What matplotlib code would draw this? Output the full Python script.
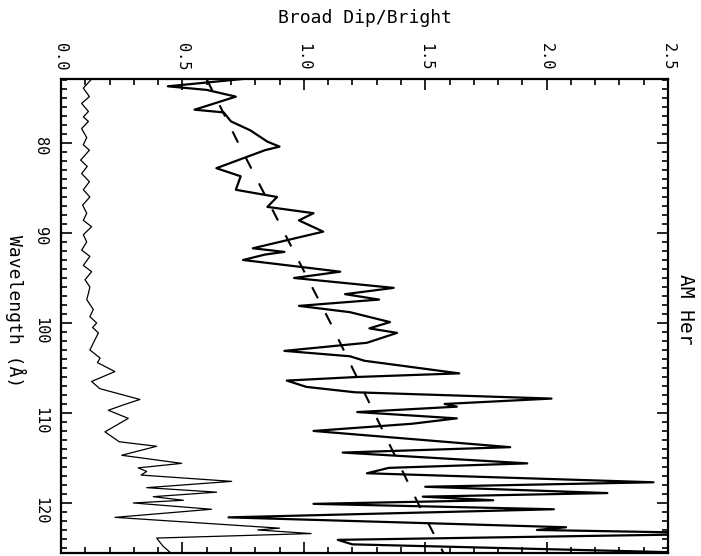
import matplotlib
matplotlib.use("Agg")
import matplotlib.pyplot as plt
from matplotlib.ticker import MultipleLocator

plt.rcParams['font.family'] = ['DejaVu Sans Mono', 'DejaVu Sans']

# broad dip / bright ratio (thick line)
ratio_wl = [72.9, 73.7, 74.1, 74.85, 76.3, 76.6, 77.6, 78.6, 79.85, 80.4,
            80.8, 82.8, 83.7, 85.2, 86.0, 87.1, 87.8, 88.6, 89.85, 91.7,
            92.1, 92.4, 93.0, 94.3, 95.0, 96.1, 96.8, 97.4, 98.1, 98.8,
            99.9, 100.6, 101.1, 102.2, 103.1, 103.7, 104.2, 105.6, 106.0, 106.4,
            107.1, 107.7, 108.4, 109.0, 109.3, 109.9, 110.6, 111.2, 112.0, 113.8,
            114.4, 115.6, 116.1, 116.7, 117.7, 118.2, 118.9, 119.3, 119.7, 120.1,
            120.7, 121.6, 122.7, 123.0, 123.4, 124.1, 124.6, 125.6]
ratio = [0.744, 0.44, 0.60, 0.72, 0.55, 0.67, 0.70, 0.78, 0.85, 0.90,
         0.84, 0.64, 0.74, 0.72, 0.89, 0.85, 1.04, 0.98, 1.08, 0.79,
         0.92, 0.84, 0.75, 1.15, 0.96, 1.37, 1.17, 1.31, 0.98, 1.19,
         1.355, 1.27, 1.384, 1.26, 0.92, 1.19, 1.25, 1.64, 1.22, 0.93,
         1.01, 1.21, 2.02, 1.58, 1.63, 1.22, 1.63, 1.445, 1.04, 1.85,
         1.16, 1.92, 1.35, 1.26, 2.44, 1.50, 2.25, 1.49, 1.78, 1.04,
         2.03, 0.69, 2.08, 1.96, 2.80, 1.14, 1.20, 2.70]

# error curve (thin line)
err_wl = [72.9, 73.9, 74.85, 75.6, 76.5, 77.1, 77.6, 78.4, 79.4, 80.2,
          80.8, 81.9, 82.6, 83.4, 84.3, 85.2, 86.0, 86.9, 87.8, 88.6,
          89.3, 90.2, 91.0, 91.9, 92.6, 93.6, 94.3, 95.2, 96.0, 96.7,
          97.4, 98.5, 99.3, 100.0, 100.5, 101.1, 103.0, 103.9, 104.4, 105.4,
          106.5, 107.3, 108.5, 109.1, 109.7, 110.6, 112.1, 113.2, 113.7, 114.7,
          115.6, 116.1, 116.5, 116.9, 117.6, 118.3, 118.8, 119.3, 119.7, 120.0,
          120.7, 121.6, 122.8, 123.0, 123.4, 123.9, 124.8, 125.5]
err = [0.126, 0.092, 0.117, 0.085, 0.113, 0.092, 0.113, 0.085, 0.106, 0.092,
       0.117, 0.081, 0.108, 0.085, 0.117, 0.092, 0.119, 0.089, 0.106, 0.092,
       0.126, 0.092, 0.106, 0.085, 0.119, 0.092, 0.126, 0.099, 0.119, 0.113,
       0.106, 0.133, 0.119, 0.147, 0.13, 0.154, 0.119, 0.161, 0.15, 0.222,
       0.126, 0.16, 0.325, 0.257, 0.195, 0.277, 0.181, 0.24, 0.394, 0.250,
       0.497, 0.318, 0.353, 0.33, 0.703, 0.353, 0.641, 0.38, 0.504, 0.298,
       0.62, 0.222, 0.90, 0.81, 1.03, 0.394, 0.42, 0.45]

# trend (dashed)
trend_wl = [72.9, 80, 90, 100, 110, 120, 125.8]
trend = [0.60, 0.73, 0.92, 1.11, 1.29, 1.47, 1.58]

fig = plt.figure(figsize=(7.01, 5.56), dpi=100)
ax = fig.add_axes([0.087, 0.0054, 0.866, 0.8525])

ax.plot(err, err_wl, color='black', lw=0.9)
ax.plot(ratio, ratio_wl, color='black', lw=1.6)
ax.plot(trend, trend_wl, color='black', lw=1.5, linestyle=(0, (6, 8)))

ax.set_xlim(0, 2.5)
ax.set_ylim(125.56, 72.89)

ax.xaxis.set_major_locator(MultipleLocator(0.5))
ax.xaxis.set_minor_locator(MultipleLocator(0.1))
ax.yaxis.set_major_locator(MultipleLocator(10))
ax.yaxis.set_minor_locator(MultipleLocator(1))
ax.xaxis.set_major_formatter(lambda v, p: f"{v:.1f}")

ax.tick_params(which='both', direction='in', top=True, right=True,
               labeltop=True, labelbottom=False, width=1.2, color='black')
ax.tick_params(which='major', length=8)
ax.tick_params(which='minor', length=4)
ax.tick_params(axis='x', labelrotation=-90, pad=6, labelsize=11)
ax.tick_params(axis='y', labelrotation=-90, pad=9, labelsize=11)
for s in ax.spines.values():
    s.set_linewidth(1.6)

fig.text(0.521, 0.968, 'Broad Dip/Bright', ha='center', va='center', fontsize=13)
fig.text(0.022, 0.44, 'Wavelength (Å)', ha='center', va='center',
         rotation=-90, fontsize=13)
fig.text(0.978, 0.443, 'AM Her', ha='center', va='center',
         rotation=-90, fontsize=14)

fig.savefig('out.png', dpi=100)
